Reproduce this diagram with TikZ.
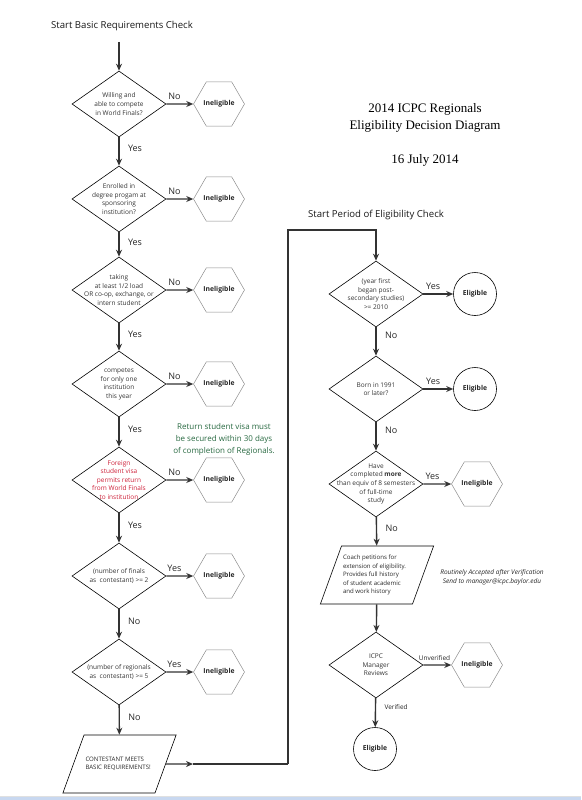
\documentclass[tikz,border=0pt]{standalone}
\usepackage{fontspec}
\setmainfont{Open Sans}
\newfontfamily\titlefont{Liberation Serif}
\usetikzlibrary{shapes.geometric,arrows.meta,positioning}
\definecolor{notegreen}{RGB}{40,105,65}
\definecolor{visared}{RGB}{205,30,55}
\definecolor{stripblue}{RGB}{200,216,240}

\begin{document}
\begin{tikzpicture}[x=1pt, y=-1pt,
    decision/.style={diamond, draw, line width=0.6pt, minimum width=94pt, minimum height=66pt, inner sep=0pt},
    qtext/.style={font=\fontsize{6.5}{8.6}\selectfont, align=center, text=black!80},
    ineligible/.style={regular polygon, regular polygon sides=6, draw=black!45, line width=0.5pt, minimum size=47pt, inner sep=0pt, font=\fontsize{6.8}{8}\selectfont\bfseries, text=black!85},
    eligible/.style={circle, draw, line width=0.6pt, minimum size=43pt, inner sep=0pt, font=\fontsize{6.8}{8}\selectfont\bfseries, text=black!85},
    outcome/.style={trapezium, trapezium left angle=70, trapezium right angle=110, draw, line width=0.6pt, inner xsep=1.5pt, inner ysep=3pt, font=\fontsize{6.1}{8.4}\selectfont, text=black!85},
    arr/.style={-{Stealth[length=7pt,width=6pt]}, line width=1.4pt, draw=black!80},
    lbl/.style={font=\fontsize{9}{10}\selectfont, text=black!85},
    small/.style={font=\fontsize{6.5}{8}\selectfont, text=black!85},
    heading/.style={font=\fontsize{9.6}{11}\selectfont, text=black!90}
]
\useasboundingbox (0,0) rectangle (581,800);

% window strip at the bottom
\fill[stripblue] (0,797) rectangle (581,800);
\draw[black!12, line width=0.5pt] (0,796.5) -- (581,796.5);

% Title
\node[font=\titlefont\fontsize{13}{17}\selectfont, align=center] (title) at (425,118) {2014 ICPC Regionals\\Eligibility Decision Diagram};
\node[font=\titlefont\fontsize{13}{17}\selectfont] (date) at (425,160) {16 July 2014};

% Basic requirements column
\node[heading] (start1) at (122,26) {Start Basic Requirements Check};
\coordinate (in1) at (119,42);

\node[decision] (q1) at (119,104) {};
\node[qtext] (q1t) at (q1) {Willing and\\able to compete\\in World Finals?};
\node[ineligible] (n1) at (219,104) {Ineligible};

\node[decision] (q2) at (119,199) {};
\node[qtext] (q2t) at (q2) {Enrolled in\\degree progam at\\sponsoring\\institution?};
\node[ineligible] (n2) at (219,199) {Ineligible};

\node[decision] (q3) at (119,290) {};
\node[qtext] (q3t) at (q3) {taking\\at least 1/2 load\\OR co-op, exchange, or\\intern student};
\node[ineligible] (n3) at (219,290) {Ineligible};

\node[decision] (q4) at (119,384) {};
\node[qtext] (q4t) at (q4) {competes\\for only one\\institution\\this year};
\node[ineligible] (n4) at (219,384) {Ineligible};

\node[decision] (q5) at (119,480) {};
\node[qtext, text=visared] (q5t) at (q5) {Foreign\\student visa\\permits return\\from World Finals\\to institution};
\node[ineligible] (n5) at (219,480) {Ineligible};
\node[font=\fontsize{8}{12}\selectfont, align=center, text=notegreen] (visa) at (224,439) {Return student visa must\\be secured within 30 days\\of completion of Regionals.};

\node[decision] (q6) at (119,576) {};
\node[qtext] (q6t) at (q6) {(number of finals\\as\ \ contestant) >= 2};
\node[ineligible] (n6) at (219,576) {Ineligible};

\node[decision] (q7) at (119,672) {};
\node[qtext] (q7t) at (q7) {(number of regionals\\as\ \ contestant) >= 5};
\node[ineligible] (n7) at (219,672) {Ineligible};

\node[outcome] (meets) at (119.5,764) {\parbox[c][52pt][c]{68pt}{\raggedright CONTESTANT MEETS\\BASIC REQUIREMENTS!}};

\draw[arr] (in1) -- (q1);
\draw[arr] (q1) -- node[lbl, above, pos=0.3] {No} (n1);
\draw[arr] (q1) -- node[lbl, right, pos=0.4, xshift=5pt] {Yes} (q2);
\draw[arr] (q2) -- node[lbl, above, pos=0.3] {No} (n2);
\draw[arr] (q2) -- node[lbl, right, pos=0.4, xshift=5pt] {Yes} (q3);
\draw[arr] (q3) -- node[lbl, above, pos=0.3] {No} (n3);
\draw[arr] (q3) -- node[lbl, right, pos=0.4, xshift=5pt] {Yes} (q4);
\draw[arr] (q4) -- node[lbl, above, pos=0.3] {No} (n4);
\draw[arr] (q4) -- node[lbl, right, pos=0.4, xshift=5pt] {Yes} (q5);
\draw[arr] (q5) -- node[lbl, above, pos=0.3] {No} (n5);
\draw[arr] (q5) -- node[lbl, right, pos=0.4, xshift=5pt] {Yes} (q6);
\draw[arr] (q6) -- node[lbl, above, pos=0.3] {Yes} (n6);
\draw[arr] (q6) -- node[lbl, right, pos=0.4, xshift=5pt] {No} (q7);
\draw[arr] (q7) -- node[lbl, above, pos=0.3] {Yes} (n7);
\draw[arr] (q7) -- node[lbl, right, pos=0.4, xshift=5pt] {No} (meets);

% Link to the period of eligibility column
\coordinate (mid) at (193,764);
\coordinate (turn1) at (288,764);
\coordinate (turn2) at (376,230);
\draw[arr] (meets) -- (mid);
\draw[line width=1.4pt, draw=black!80] (mid) -- (turn1);

% Period of eligibility column
\node[heading] (start2) at (376,215) {Start Period of Eligibility Check};

\node[decision] (r1) at (376,294) {};
\node[qtext] (r1t) at (r1) {(year first\\began post-\\secondary studies)\\>= 2010};
\node[eligible] (e1) at (475,294) {Eligible};

\node[decision] (r2) at (376,389) {};
\node[qtext] (r2t) at (r2) {Born in 1991\\or later?};
\node[eligible] (e2) at (475,389) {Eligible};

\node[decision] (r3) at (376,484) {};
\node[qtext] (r3t) at (r3) {Have\\completed \textbf{more}\\than equiv of 8 semesters\\of full-time\\study};
\node[ineligible] (n8) at (477,484) {Ineligible};

\node[outcome] (coach) at (377,575) {\parbox[c][52pt][c]{68pt}{\raggedright Coach petitions for\\extension of eligibility.\\Provides full history\\of student academic\\and work history}};
\node[small, font=\fontsize{6.5}{9}\selectfont\itshape, align=center] (note) at (492,577.5) {Routinely Accepted after Verification\\Send to manager@icpc.baylor.edu};

\node[decision] (r4) at (376,665) {};
\node[qtext] (r4t) at (r4) {ICPC\\Manager\\Reviews};
\node[ineligible] (n9) at (477,665) {Ineligible};
\node[eligible] (e3) at (375,749) {Eligible};

\draw[arr] (turn1) |- (turn2) -- (r1);
\draw[arr] (r1) -- node[lbl, above, pos=0.33] {Yes} (e1);
\draw[arr] (r1) -- node[lbl, right, pos=0.3, xshift=5pt] {No} (r2);
\draw[arr] (r2) -- node[lbl, above, pos=0.33] {Yes} (e2);
\draw[arr] (r2) -- node[lbl, right, pos=0.3, xshift=5pt] {No} (r3);
\draw[arr] (r3) -- node[lbl, above, pos=0.33] {Yes} (n8);
\draw[arr] (r3) -- node[lbl, right, pos=0.4, xshift=5pt] {No} (coach);
\draw[arr] (coach) -- (r4);
\draw[arr] (r4) -- node[small, above, pos=0.4] {Unverified} (n9);
\draw[arr] (r4) -- node[small, right, pos=0.3, xshift=5pt] {Verified} (e3);

\end{tikzpicture}
\end{document}
